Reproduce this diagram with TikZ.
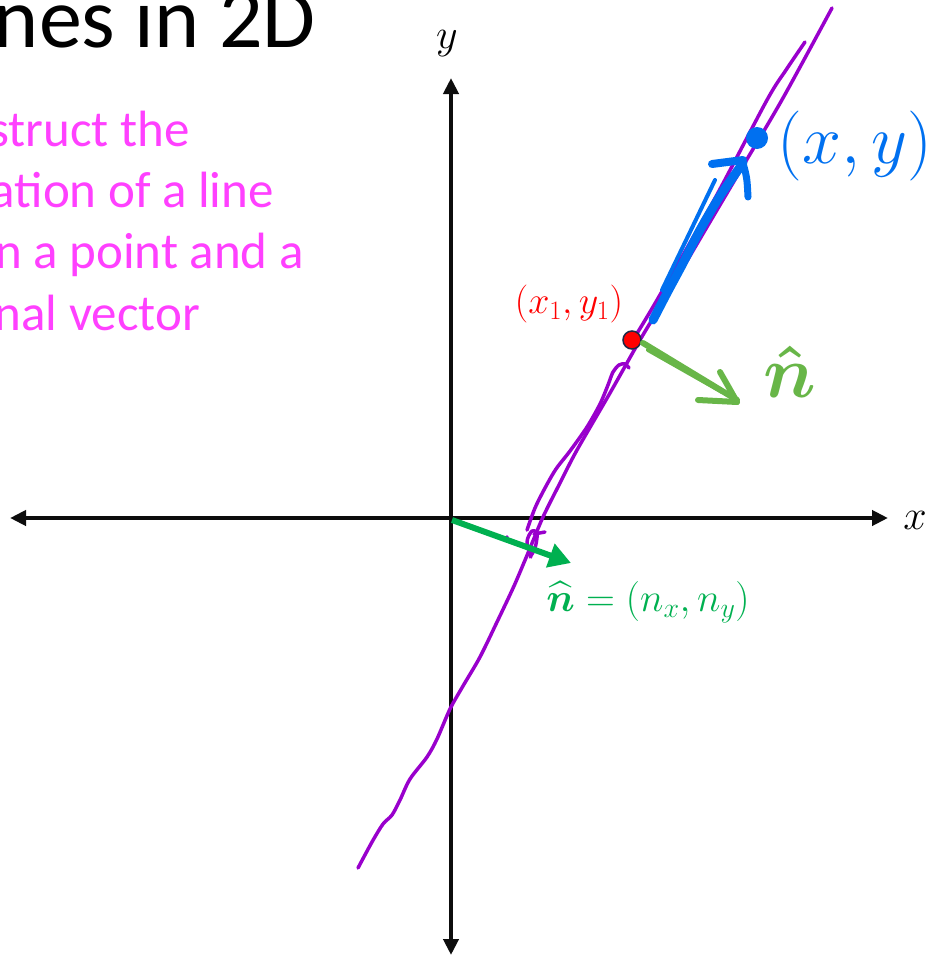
\RequirePackage{fix-cm}
\documentclass[tikz,border=0pt]{standalone}
\usepackage{amsmath}
\usepackage{amssymb}
\usepackage{fontspec}
\setmainfont{Carlito}
\usepackage{tikz}
\usetikzlibrary{arrows.meta}

\definecolor{inkblack}{RGB}{13,13,13}
\definecolor{slidepink}{RGB}{255,64,255}
\definecolor{penpurple}{RGB}{153,0,204}
\definecolor{penblue}{RGB}{0,112,240}
\definecolor{pengreen}{RGB}{104,182,72}
\definecolor{mathgreen}{RGB}{0,176,80}
\definecolor{dotrim}{RGB}{30,40,70}

\begin{document}
\begin{tikzpicture}[x=1pt,y=-1pt,
		axis/.style={line width=4pt, draw=inkblack,
				{Triangle[length=16pt,width=15pt]}-{Triangle[length=16pt,width=15pt]}},
		pen/.style={line width=#1, line cap=round, line join=round},
		purplepen/.style={pen=3.5pt, draw=penpurple}]
	\useasboundingbox (0,0) rectangle (926,958);
	\clip (0,0) rectangle (926,958);

	% title and slide text (cut at the left edge)
	\node[anchor=base east, inner sep=0, font=\fontsize{86}{100}\selectfont] (title) at (316,48) {nes in 2D};
	\foreach \txt/\xe/\yb [count=\i] in {struct the/190/146, ation of a line/274/207,
			n a point and a/304/268, nal vector/200/330} {
			\node[anchor=base east, inner sep=0, text=slidepink,
				font=\fontsize{51}{60}\selectfont] (goal\i) at (\xe,\yb) {\txt};
		}

	% axes
	\coordinate (xl) at (10,518);
	\coordinate (xr) at (888,518);
	\coordinate (yt) at (451,78);
	\coordinate (yb) at (451,955);
	\coordinate (O) at (452,520);
	\draw[axis] (xl) -- (xr);
	\draw[axis] (yb) -- (yt);
	\node[font=\fontsize{42}{46}\selectfont] (xlab) at (915,520) {$x$};
	\node[font=\fontsize{42}{46}\selectfont] (ylab) at (447,44) {$y$};

	% the line, drawn by hand
	\draw[purplepen] plot[smooth, tension=0.5] coordinates {(358,868) (372,842) (383,824) (392,815)
			(400,800) (410,779) (427,757) (437,739) (450,709) (463,686) (480,657) (497,622) (514,586)
			(528,553) (543,517) (560,483) (577,450) (610,393) (640,340) (664,300) (704,232)
			(743,166) (783,98) (832,8)};
	\draw[purplepen] plot[smooth, tension=0.5] coordinates {(527,530) (535,508) (545,488) (556,469)
			(570,451) (587,427) (600,404) (608,385) (613,372) (619,365) (625,364) (629,368)};
	\draw[purplepen] plot[smooth, tension=0.5] coordinates {(636,335) (657,300) (713,202)
			(767,100) (786,70) (805,42)};
	\draw[purplepen] plot[smooth, tension=0.6] coordinates {(531,557) (527,542) (532,531) (537,534)
			(535,548) (530,557)};
	\draw[purplepen] (534,534) -- (545,532);
	\fill[penpurple] (507,537) circle (1.8);

	% point on the line
	\node[circle, fill=red, draw=dotrim, line width=1.5pt, minimum size=18pt, inner sep=0] (p1) at (632,340) {};
	\node[text=red, font=\fontsize{38}{44}\selectfont] (p1lab) at (569,304) {$(x_1,y_1)$};

	% general point, drawn by hand
	\draw[pen=9pt, draw=penblue] plot[smooth] coordinates {(653,320) (667,293) (682,265)
			(700,230) (720,196) (743,163)};
	\draw[pen=4pt, draw=penblue] (715,180) -- (690,232) -- (662,290);
	\draw[pen=8pt, draw=penblue] (712,164) -- (743,160);
	\draw[pen=7pt, draw=penblue] (743,163) .. controls (747,178) .. (748,197);
	\fill[penblue] (757,138) circle (11);
	\node[text=penblue, font=\fontsize{70}{80}\selectfont] (xylab) at (855,146) {$(x,y)$};

	% normal at the point, drawn by hand
	\draw[pen=6pt, draw=pengreen] (643,343) -- (737,400);
	\draw[pen=4pt, draw=pengreen] (648,350) -- (722,392);
	\draw[pen=6pt, draw=pengreen] (698,400) -- (737,402);
	\draw[pen=6pt, draw=pengreen] (720,372) .. controls (728,386) .. (737,402);
	\node[text=pengreen, font=\fontsize{74}{80}\selectfont\boldmath] (nhand) at (790,372) {$\hat{n}$};

	% unit normal from the origin
	\coordinate (ntip) at (571,563);
	\draw[line width=6pt, mathgreen, -{Triangle[length=22pt,width=24pt]}] (O) -- (ntip);
	\node[text=mathgreen, font=\fontsize{40}{46}\selectfont] (nlab) at (648,602)
	{$\widehat{\boldsymbol{n}}=(n_x,n_y)$};
\end{tikzpicture}
\end{document}
